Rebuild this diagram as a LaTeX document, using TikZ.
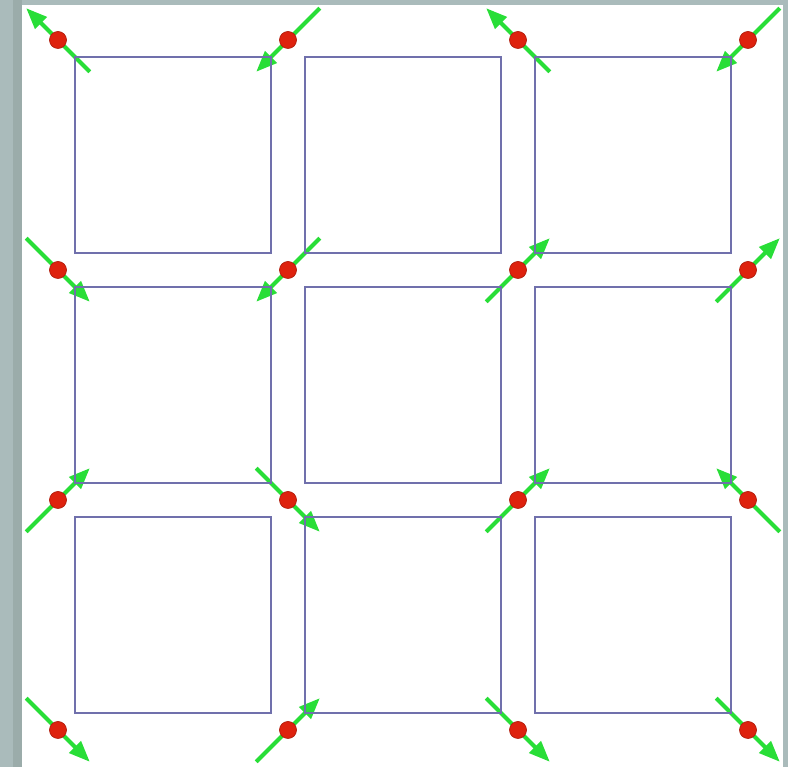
\documentclass[tikz,border=0pt]{standalone}
\usepackage{tikz}
\usetikzlibrary{arrows.meta}
\definecolor{framegray}{RGB}{170,187,187}
\definecolor{framedark}{RGB}{155,172,170}
\definecolor{cellblue}{RGB}{112,112,172}
\definecolor{spingreen}{RGB}{40,222,55}
\definecolor{sitered}{RGB}{222,34,14}
\newcommand{\SpinLen}{0.9}
\newcommand{\CellLo}{0.34}
\newcommand{\CellHi}{4.26}
\tikzset{
  spin/.style={draw=spingreen,line width=2.3pt,-{Triangle[length=4.2mm,width=3.2mm]}},
  cell/.style={draw=cellblue,line width=0.8pt},
  site/.style={circle,fill=sitered,draw=sitered!80!black,line width=0.4pt,minimum size=3.4mm,inner sep=0pt}
}

\begin{document}
\begin{tikzpicture}
\useasboundingbox (-1.16,-0.74) rectangle (14.6,14.6);
\fill[framegray] (-1.16,-0.74) rectangle (14.6,14.6);
\fill[framedark] (-0.9,-0.74) rectangle (-0.72,14.6);
\fill[white] (-0.72,-0.74) rectangle (14.5,14.5);
% lattice sites, row 1 at the top
\coordinate (p11) at (0,13.8);
\coordinate (p12) at (4.6,13.8);
\coordinate (p13) at (9.2,13.8);
\coordinate (p14) at (13.8,13.8);
\coordinate (p21) at (0,9.2);
\coordinate (p22) at (4.6,9.2);
\coordinate (p23) at (9.2,9.2);
\coordinate (p24) at (13.8,9.2);
\coordinate (p31) at (0,4.6);
\coordinate (p32) at (4.6,4.6);
\coordinate (p33) at (9.2,4.6);
\coordinate (p34) at (13.8,4.6);
\coordinate (p41) at (0,0);
\coordinate (p42) at (4.6,0);
\coordinate (p43) at (9.2,0);
\coordinate (p44) at (13.8,0);
% spins
\draw[spin] ([shift={(-45:\SpinLen)}]p11) -- ([shift={(135:\SpinLen)}]p11);
\draw[spin] ([shift={(45:\SpinLen)}]p12) -- ([shift={(225:\SpinLen)}]p12);
\draw[spin] ([shift={(-45:\SpinLen)}]p13) -- ([shift={(135:\SpinLen)}]p13);
\draw[spin] ([shift={(45:\SpinLen)}]p14) -- ([shift={(225:\SpinLen)}]p14);
\draw[spin] ([shift={(135:\SpinLen)}]p21) -- ([shift={(-45:\SpinLen)}]p21);
\draw[spin] ([shift={(45:\SpinLen)}]p22) -- ([shift={(225:\SpinLen)}]p22);
\draw[spin] ([shift={(225:\SpinLen)}]p23) -- ([shift={(45:\SpinLen)}]p23);
\draw[spin] ([shift={(225:\SpinLen)}]p24) -- ([shift={(45:\SpinLen)}]p24);
\draw[spin] ([shift={(225:\SpinLen)}]p31) -- ([shift={(45:\SpinLen)}]p31);
\draw[spin] ([shift={(135:\SpinLen)}]p32) -- ([shift={(-45:\SpinLen)}]p32);
\draw[spin] ([shift={(225:\SpinLen)}]p33) -- ([shift={(45:\SpinLen)}]p33);
\draw[spin] ([shift={(-45:\SpinLen)}]p34) -- ([shift={(135:\SpinLen)}]p34);
\draw[spin] ([shift={(135:\SpinLen)}]p41) -- ([shift={(-45:\SpinLen)}]p41);
\draw[spin] ([shift={(225:\SpinLen)}]p42) -- ([shift={(45:\SpinLen)}]p42);
\draw[spin] ([shift={(135:\SpinLen)}]p43) -- ([shift={(-45:\SpinLen)}]p43);
\draw[spin] ([shift={(135:\SpinLen)}]p44) -- ([shift={(-45:\SpinLen)}]p44);
% plaquettes
\draw[cell] ([shift={(\CellLo,-\CellLo)}]p11) rectangle ([shift={(\CellHi,-\CellHi)}]p11);
\draw[cell] ([shift={(\CellLo,-\CellLo)}]p12) rectangle ([shift={(\CellHi,-\CellHi)}]p12);
\draw[cell] ([shift={(\CellLo,-\CellLo)}]p13) rectangle ([shift={(\CellHi,-\CellHi)}]p13);
\draw[cell] ([shift={(\CellLo,-\CellLo)}]p21) rectangle ([shift={(\CellHi,-\CellHi)}]p21);
\draw[cell] ([shift={(\CellLo,-\CellLo)}]p22) rectangle ([shift={(\CellHi,-\CellHi)}]p22);
\draw[cell] ([shift={(\CellLo,-\CellLo)}]p23) rectangle ([shift={(\CellHi,-\CellHi)}]p23);
\draw[cell] ([shift={(\CellLo,-\CellLo)}]p31) rectangle ([shift={(\CellHi,-\CellHi)}]p31);
\draw[cell] ([shift={(\CellLo,-\CellLo)}]p32) rectangle ([shift={(\CellHi,-\CellHi)}]p32);
\draw[cell] ([shift={(\CellLo,-\CellLo)}]p33) rectangle ([shift={(\CellHi,-\CellHi)}]p33);
% sites on top of the spins
\node[site] (s11) at (p11) {};
\node[site] (s12) at (p12) {};
\node[site] (s13) at (p13) {};
\node[site] (s14) at (p14) {};
\node[site] (s21) at (p21) {};
\node[site] (s22) at (p22) {};
\node[site] (s23) at (p23) {};
\node[site] (s24) at (p24) {};
\node[site] (s31) at (p31) {};
\node[site] (s32) at (p32) {};
\node[site] (s33) at (p33) {};
\node[site] (s34) at (p34) {};
\node[site] (s41) at (p41) {};
\node[site] (s42) at (p42) {};
\node[site] (s43) at (p43) {};
\node[site] (s44) at (p44) {};
\end{tikzpicture}
\end{document}
